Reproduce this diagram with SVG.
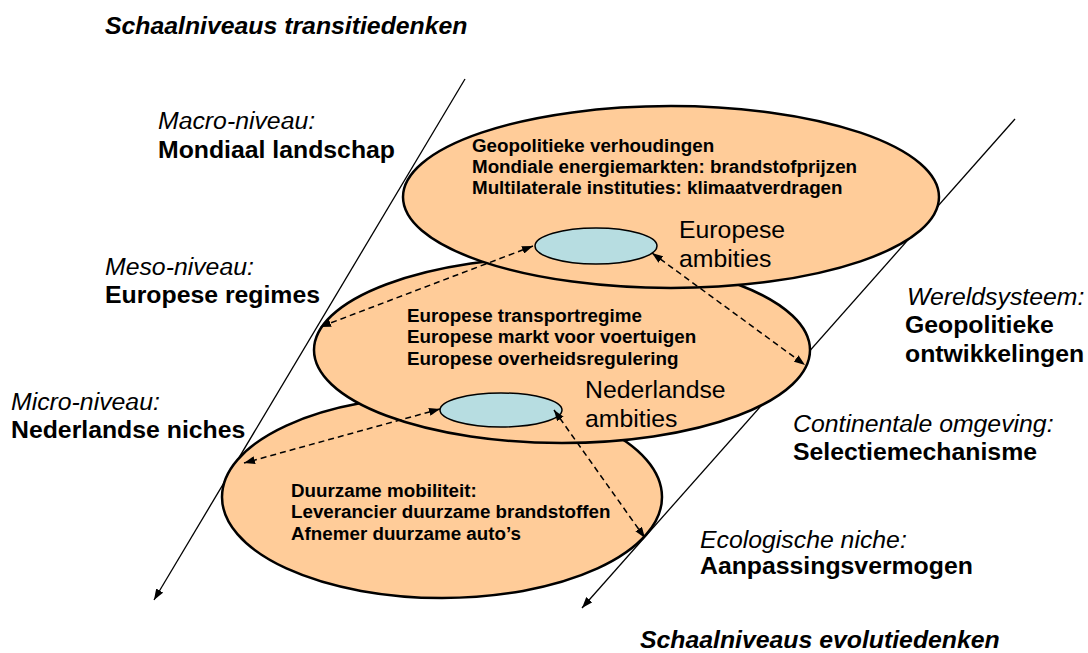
<svg xmlns="http://www.w3.org/2000/svg" width="1088" height="653" viewBox="0 0 1088 653">
<style>
.lbl{font-family:"Liberation Sans",Arial,sans-serif;font-size:24.8px;fill:#000}
.it{font-style:italic}
.b{font-weight:bold}
.bi{font-weight:bold;font-style:italic}
.inner{font-family:"Liberation Sans",Arial,sans-serif;font-size:18.8px;font-weight:bold;fill:#000}
.big{fill:#FFCC99;stroke:#000;stroke-width:2.5}
.small{fill:#B7DDE1;stroke:#000;stroke-width:1.5}
.axis{stroke:#000;stroke-width:1.3;fill:none}
.dash{stroke:#000;stroke-width:1.5;fill:none;stroke-dasharray:6 4}
</style>
<defs>
<marker id="ah" viewBox="0 0 11 8" refX="11" refY="4" markerWidth="11" markerHeight="8" markerUnits="userSpaceOnUse" orient="auto-start-reverse">
<path d="M0,0 L11,4 L0,8 Z" fill="#000"/>
</marker>
</defs>
<rect width="1088" height="653" fill="#fff"/>
<g id="axes">
<line class="axis" x1="465" y1="79" x2="154" y2="600" marker-end="url(#ah)"/>
<line class="axis" x1="1015" y1="119" x2="582" y2="608" marker-end="url(#ah)"/>
</g>
<g id="micro">
<ellipse class="big" cx="442" cy="497" rx="220" ry="101"/>
<text class="inner" x="291" y="497">Duurzame mobiliteit:</text>
<text class="inner" x="291" y="518">Leverancier duurzame brandstoffen</text>
<text class="inner" x="291" y="540">Afnemer duurzame auto’s</text>
</g>
<g id="meso">
<ellipse class="big" cx="562" cy="350" rx="248" ry="93"/>
<text class="inner" x="407" y="322">Europese transportregime</text>
<text class="inner" x="407" y="343">Europese markt voor voertuigen</text>
<text class="inner" x="407" y="365">Europese overheidsregulering</text>
<ellipse class="small" cx="501" cy="410" rx="61" ry="17"/>
<text class="lbl" x="585" y="398">Nederlandse</text>
<text class="lbl" x="585" y="427">ambities</text>
</g>
<g id="macro">
<ellipse class="big" cx="671" cy="197" rx="268" ry="91"/>
<text class="inner" x="472" y="152">Geopolitieke verhoudingen</text>
<text class="inner" x="472" y="173">Mondiale energiemarkten: brandstofprijzen</text>
<text class="inner" x="472" y="194">Multilaterale instituties: klimaatverdragen</text>
<ellipse class="small" cx="596" cy="246" rx="61" ry="18"/>
<text class="lbl" x="679" y="238">Europese</text>
<text class="lbl" x="679" y="267">ambities</text>
</g>
<g id="connectors">
<line class="dash" x1="533" y1="246" x2="320" y2="327" marker-start="url(#ah)" marker-end="url(#ah)"/>
<line class="dash" x1="652" y1="253" x2="805" y2="365" marker-start="url(#ah)" marker-end="url(#ah)"/>
<line class="dash" x1="440" y1="409" x2="244" y2="463" marker-start="url(#ah)" marker-end="url(#ah)"/>
<line class="dash" x1="554" y1="410" x2="645" y2="538" marker-start="url(#ah)" marker-end="url(#ah)"/>
</g>
<g id="labels">
<text class="lbl bi" x="105" y="34">Schaalniveaus transitiedenken</text>
<text class="lbl it" x="158" y="129">Macro-niveau:</text>
<text class="lbl b" x="158" y="158">Mondiaal landschap</text>
<text class="lbl it" x="105" y="275">Meso-niveau:</text>
<text class="lbl b" x="105" y="303">Europese regimes</text>
<text class="lbl it" x="11" y="410">Micro-niveau:</text>
<text class="lbl b" x="11" y="438">Nederlandse niches</text>
<text class="lbl it" x="907" y="305">Wereldsysteem:</text>
<text class="lbl b" x="905" y="333">Geopolitieke</text>
<text class="lbl b" x="905" y="362">ontwikkelingen</text>
<text class="lbl it" x="793" y="432">Continentale omgeving:</text>
<text class="lbl b" x="793" y="460">Selectiemechanisme</text>
<text class="lbl it" x="700" y="548">Ecologische niche:</text>
<text class="lbl b" x="700" y="574">Aanpassingsvermogen</text>
<text class="lbl bi" x="640" y="648">Schaalniveaus evolutiedenken</text>
</g>
</svg>
